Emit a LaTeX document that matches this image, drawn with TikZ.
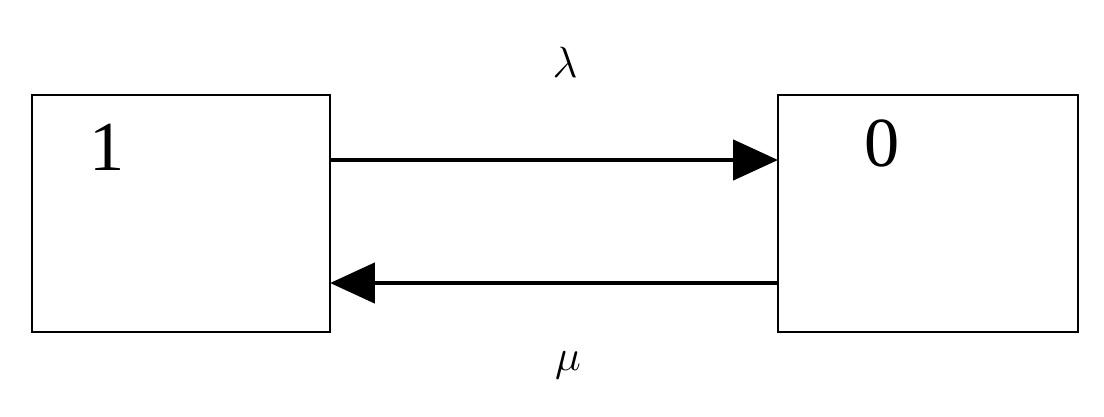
\documentclass[tikz,border=0pt]{standalone}
\usepackage{fontspec}
\setmainfont{Liberation Serif}
\usetikzlibrary{arrows.meta}
\begin{document}
\begin{tikzpicture}[x=0.02cm,y=-0.02cm,
  box/.style={draw,line width=0.9pt,inner sep=0pt},
  arr/.style={line width=2.8pt,-{Triangle[length=0.9cm,width=0.8cm]}},
  lbl/.style={font=\fontsize{40}{40}\selectfont}]
\useasboundingbox (0,0) rectangle (1104,416);
\draw[box] (32,95) rectangle (330,332);
\draw[box] (778,95) rectangle (1078,332);
\coordinate (a1) at (330,160);
\coordinate (b1) at (778,160);
\coordinate (a2) at (778,283);
\coordinate (b2) at (330,283);
\draw[arr] (a1) -- (b1);
\draw[arr] (a2) -- (b2);
\node[lbl] (n1) at (107,147) {1};
\node[lbl] (n0) at (882,143) {0};
\node[lbl] (la) at (565,62) {$\lambda$};
\node[lbl] (mu) at (568,365) {$\mu$};
\end{tikzpicture}
\end{document}
